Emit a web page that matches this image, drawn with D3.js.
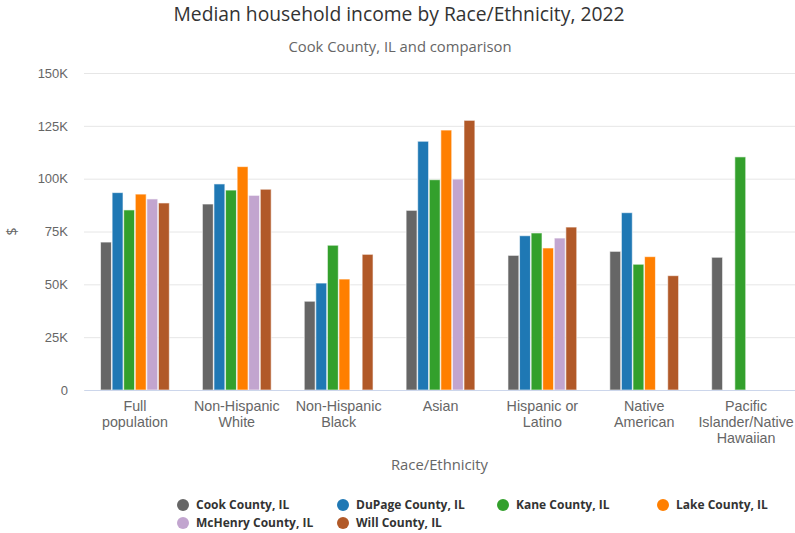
<!DOCTYPE html>
<html>
<head>
<meta charset="utf-8">
<script src="https://cdn.jsdelivr.net/npm/d3@7"></script>
<style>
  body { margin: 0; background: #fff; }
  svg { font-family: "Open Sans", "DejaVu Sans", sans-serif; display: block; }
</style>
</head>
<body>
<svg id="chart" width="795" height="533"></svg>
<script>
// categories on the x axis
var categories = [
  'Full population',
  'Non-Hispanic White',
  'Non-Hispanic Black',
  'Asian',
  'Hispanic or Latino',
  'Native American',
  'Pacific Islander/Native Hawaiian'
];

// one entry per county
var seriesNames = [
  'Cook County, IL',
  'DuPage County, IL',
  'Kane County, IL',
  'Lake County, IL',
  'McHenry County, IL',
  'Will County, IL'
];
var seriesColors = ['#666666', '#1f78b4', '#33a02c', '#ff7f00', '#c2a5cf', '#b15928'];

// median household income, same order as categories (null = no data)
var cook    = [70000, 88000, 42000, 85000, 63700, 65600, 62800];
var dupage  = [93400, 97500, 50600, 117700, 73000, 83900, null];
var kane    = [85200, 94600, 68500, 99500, 74300, 59500, 110300];
var lake    = [92700, 105700, 52500, 123000, 67200, 63100, null];
var mchenry = [90400, 92100, null, 99800, 71900, null, null];
var will    = [88500, 95000, 64200, 127600, 77100, 54100, null];

var seriesValues = [cook, dupage, kane, lake, mchenry, will];

var yTicks = [0, 25000, 50000, 75000, 100000, 125000, 150000];

var svg = d3.select('#chart');

var margin = { top: 73, left: 84 },
  plotW = 713,
  plotH = 317;

var g = svg.append('g').attr('transform', 'translate(' + margin.left + ',' + margin.top + ')');

// scales
var xScale = d3.scaleBand().domain(categories).range([0, plotW]);
var groupPad = xScale.bandwidth() * 0.159;
var xInner = d3.scaleBand()
  .domain(d3.range(seriesNames.length))
  .range([groupPad, xScale.bandwidth() - groupPad])
  .paddingInner(0.06)
  .paddingOuter(0.03);
var yScale = d3.scaleLinear().domain([0, 150000]).range([plotH, 0]);

// gridlines + y labels
var yAxis = d3.axisLeft(yScale)
  .tickValues(yTicks)
  .tickSize(-plotW)
  .tickPadding(16)
  .tickFormat(function (d) { return d === 0 ? '0' : (d / 1000) + 'K'; });

var yG = g.append('g').call(yAxis);
yG.select('.domain').remove();
yG.selectAll('line').attr('stroke', '#e6e6e6');
yG.selectAll('text')
  .attr('fill', '#666666')
  .attr('font-size', '13px')
  .attr('font-family', null);

// y title
svg.append('text')
  .attr('transform', 'translate(17,' + (margin.top + plotH / 2) + ') rotate(-90)')
  .attr('text-anchor', 'middle')
  .attr('fill', '#666666')
  .attr('font-size', '14px')
  .text('$');

// bars
var groups = g.selectAll('.cat')
  .data(categories)
  .enter()
  .append('g')
  .attr('transform', function (d) { return 'translate(' + xScale(d) + ',0)'; });

groups.selectAll('rect')
  .data(function (d, i) {
    return seriesValues.map(function (vals, s) { return { s: s, v: vals[i] }; })
      .filter(function (p) { return p.v != null; });
  })
  .enter()
  .append('rect')
  .attr('x', function (d) { return xInner(d.s); })
  .attr('width', xInner.bandwidth())
  .attr('y', function (d) { return yScale(d.v); })
  .attr('height', function (d) { return plotH - yScale(d.v); })
  .attr('fill', function (d) { return seriesColors[d.s]; })
  .attr('stroke', '#ffffff')
  .attr('stroke-opacity', 0.6)
  .attr('stroke-width', 1);

// x axis
var xAxis = d3.axisBottom(xScale).tickSize(0).tickPadding(18);
var xG = g.append('g').attr('transform', 'translate(0,' + plotH + ')').call(xAxis);
xG.select('.domain').attr('stroke', '#ccd6eb');
xG.selectAll('text')
  .attr('fill', '#666666')
  .attr('font-size', '14.3px')
  .attr('font-family', null)
  .call(wrap, 92);

function wrap(sel, maxW) {
  sel.each(function () {
    var text = d3.select(this),
      words = text.text().split(/\s+/),
      y = text.attr('y'),
      lines = [],
      line = [];
    text.text(null);
    var tspan = text.append('tspan');
    words.forEach(function (w) {
      line.push(w);
      tspan.text(line.join(' '));
      if (tspan.node().getComputedTextLength() > maxW && line.length > 1) {
        line.pop();
        lines.push(line.join(' '));
        line = [w];
      }
    });
    lines.push(line.join(' '));
    text.text(null);
    lines.forEach(function (l, i) {
      text.append('tspan')
        .attr('x', 0)
        .attr('y', y)
        .attr('dy', (i * 16 + 3) + 'px')
        .text(l);
    });
  });
}

// x title
svg.append('text')
  .attr('x', margin.left + plotW / 2 - 1)
  .attr('y', 470)
  .attr('text-anchor', 'middle')
  .attr('fill', '#666666')
  .attr('font-size', '14.8px')
  .text('Race/Ethnicity');

// title + subtitle
svg.append('text')
  .attr('x', 399)
  .attr('y', 21)
  .attr('text-anchor', 'middle')
  .attr('fill', '#333333')
  .attr('font-size', '19.3px')
  .text('Median household income by Race/Ethnicity, 2022');

svg.append('text')
  .attr('x', 400)
  .attr('y', 52)
  .attr('text-anchor', 'middle')
  .attr('fill', '#666666')
  .attr('font-size', '14.8px')
  .text('Cook County, IL and comparison');

// legend
var legend = svg.append('g').attr('transform', 'translate(183,505)');
var items = legend.selectAll('g')
  .data(seriesNames)
  .enter()
  .append('g')
  .attr('transform', function (d, i) {
    return 'translate(' + (i % 4) * 160 + ',' + Math.floor(i / 4) * 18 + ')';
  });

items.append('circle')
  .attr('r', 6)
  .attr('fill', function (d, i) { return seriesColors[i]; });

items.append('text')
  .attr('x', 13)
  .attr('dy', '0.35em')
  .attr('fill', '#333333')
  .attr('font-size', '12px')
  .attr('font-weight', 'bold')
  .text(function (d) { return d; });
</script>
</body>
</html>
